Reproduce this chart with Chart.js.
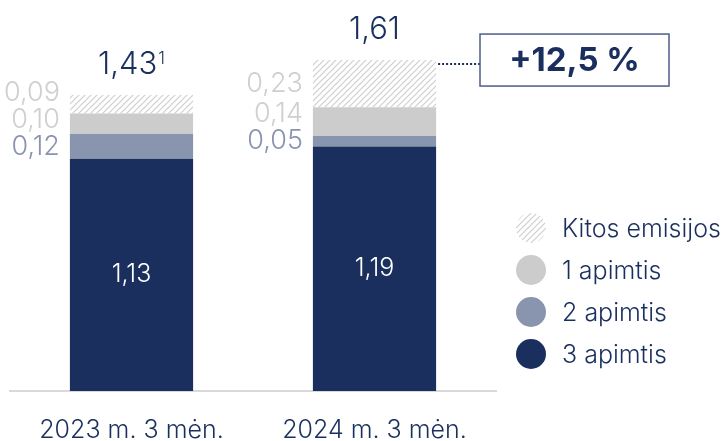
<!DOCTYPE html>
<html>
<head>
<meta charset="utf-8">
<script src="https://cdn.jsdelivr.net/npm/chart.js@4/dist/chart.umd.min.js"></script>
<style>
  html, body { margin: 0; padding: 0; background: #fff; }
  #wrap { width: 728px; height: 441px; position: relative; }
</style>
</head>
<body>
<div id="wrap"><canvas id="c" width="728" height="441"></canvas></div>
<script>
// Emissions by scope, stacked per period
const categories = ['2023 m. 3 mėn.', '2024 m. 3 mėn.'];
const scope3 = [1.13, 1.19];
const scope2 = [0.12, 0.05];
const scope1 = [0.10, 0.14];
const otherEmissions = [0.09, 0.23];
const totals = [1.43, 1.61];
const totalFootnotes = ['1', ''];
const seriesNames = ['3 apimtis', '2 apimtis', '1 apimtis', 'Kitos emisijos'];
const changeLabel = '+12,5 %';

const NAVY = '#1a2f5e';
const STEEL = '#8995ae';
const LIGHT = '#cccccc';
const FONT = 'Inter, Roboto, sans-serif';
const LIGHTW = '300 ';

function hatchPattern() {
  const s = 6;
  const c = document.createElement('canvas');
  c.width = s; c.height = s;
  const g = c.getContext('2d');
  g.fillStyle = '#ffffff';
  g.fillRect(0, 0, s, s);
  g.strokeStyle = '#cfcfcf';
  g.lineWidth = 1.2;
  g.beginPath();
  g.moveTo(-1, s + 1); g.lineTo(s + 1, -1);
  g.moveTo(-1, 1); g.lineTo(1, -1);
  g.moveTo(s - 1, s + 1); g.lineTo(s + 1, s - 1);
  g.stroke();
  return document.getElementById('c').getContext('2d').createPattern(c, 'repeat');
}
const hatch = hatchPattern();

const fmt = v => v.toFixed(2).replace('.', ',');

// Value labels beside, inside and above the stacks
const labelPlugin = {
  id: 'stackLabels',
  afterDatasetsDraw(chart) {
    const ctx = chart.ctx;
    const ds = chart.data.datasets;
    ctx.save();
    categories.forEach((cat, i) => {
      // inner label of the base segment
      const base = chart.getDatasetMeta(0).data[i];
      ctx.font = LIGHTW + '25px ' + FONT;
      ctx.fillStyle = '#ffffff';
      ctx.textAlign = 'center';
      ctx.textBaseline = 'middle';
      ctx.fillText(fmt(ds[0].data[i]), base.x, (base.y + base.base) / 2);

      // side labels, kept from overlapping
      let prevY = Infinity;
      for (let d = 1; d < ds.length; d++) {
        const el = chart.getDatasetMeta(d).data[i];
        const y = Math.min((el.y + el.base) / 2, prevY - 27);
        prevY = y;
        ctx.font = LIGHTW + '27px ' + FONT;
        ctx.fillStyle = ds[d].labelColor;
        ctx.textAlign = 'right';
        ctx.textBaseline = 'middle';
        ctx.fillText(fmt(ds[d].data[i]), el.x - el.width / 2 - 10, y);
      }

      // total above the stack
      const top = chart.getDatasetMeta(ds.length - 1).data[i];
      const txt = fmt(totals[i]);
      const sup = totalFootnotes[i];
      ctx.font = LIGHTW + '31px ' + FONT;
      const w1 = ctx.measureText(txt).width;
      ctx.font = LIGHTW + '17px ' + FONT;
      const w2 = sup ? ctx.measureText(sup).width + 1 : 0;
      const x0 = top.x - (w1 + w2) / 2;
      const cy = top.y - 30;
      ctx.fillStyle = NAVY;
      ctx.textAlign = 'left';
      ctx.textBaseline = 'middle';
      ctx.font = LIGHTW + '31px ' + FONT;
      ctx.fillText(txt, x0, cy);
      if (sup) {
        ctx.font = LIGHTW + '17px ' + FONT;
        ctx.fillText(sup, x0 + w1 + 1, cy - 6);
      }
    });

    // change box linked to the last stack
    const last = chart.getDatasetMeta(ds.length - 1).data[categories.length - 1];
    const bx = 480, bw = 189, bh = 52;
    const by = last.y - 26;
    ctx.strokeStyle = NAVY;
    ctx.lineWidth = 2;
    ctx.setLineDash([2, 2]);
    ctx.beginPath();
    ctx.moveTo(last.x + last.width / 2 + 2, last.y + 4);
    ctx.lineTo(bx, last.y + 4);
    ctx.stroke();
    ctx.setLineDash([]);
    ctx.strokeStyle = '#4d5d86';
    ctx.lineWidth = 1.5;
    ctx.strokeRect(bx, by, bw, bh);
    ctx.fillStyle = NAVY;
    ctx.font = 'bold 33px ' + FONT;
    ctx.textAlign = 'center';
    ctx.textBaseline = 'middle';
    ctx.fillText(changeLabel, bx + bw / 2, by + bh / 2 + 1);

    // legend, top series first
    const lx = chart.chartArea.right + 35;
    for (let k = 0; k < ds.length; k++) {
      const d = ds.length - 1 - k;
      const y = 228 + k * 42;
      ctx.beginPath();
      ctx.arc(lx, y, 15, 0, Math.PI * 2);
      ctx.fillStyle = ds[d].backgroundColor;
      ctx.fill();
      ctx.fillStyle = NAVY;
      ctx.font = LIGHTW + '25px ' + FONT;
      ctx.textAlign = 'left';
      ctx.textBaseline = 'middle';
      ctx.fillText(ds[d].label, lx + 31, y + 1);
    }
    ctx.restore();
  }
};

new Chart(document.getElementById('c'), {
  type: 'bar',
  data: {
    labels: categories,
    datasets: [
      { label: seriesNames[0], data: scope3, backgroundColor: NAVY, labelColor: '#ffffff' },
      { label: seriesNames[1], data: scope2, backgroundColor: STEEL, labelColor: STEEL },
      { label: seriesNames[2], data: scope1, backgroundColor: LIGHT, labelColor: '#cfcfcf' },
      { label: seriesNames[3], data: otherEmissions, backgroundColor: hatch, labelColor: '#cfcfcf' }
    ]
  },
  options: {
    responsive: false,
    animation: false,
    devicePixelRatio: 1,
    categoryPercentage: 0.507,
    barPercentage: 1,
    layout: { padding: { left: 10, right: 232, top: 21, bottom: 0 } },
    plugins: { legend: { display: false }, tooltip: { enabled: false } },
    scales: {
      x: {
        stacked: true,
        grid: { display: false, drawTicks: false },
        border: { display: true, color: '#d9d9d9', width: 2 },
        ticks: { color: NAVY, font: { family: FONT, size: 25, weight: 300 }, padding: 24 },
        afterFit(s) { s.height = 50; }
      },
      y: { stacked: true, display: false, min: 0, max: 1.8 }
    }
  },
  plugins: [labelPlugin]
});
</script>
</body>
</html>
